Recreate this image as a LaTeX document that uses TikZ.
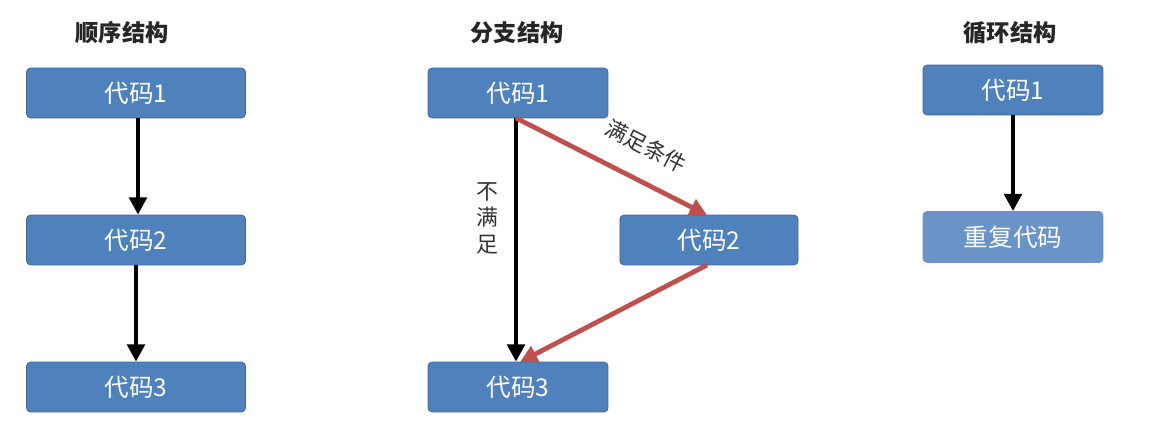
\documentclass[tikz,border=0pt]{standalone}
\usepackage{fontspec}
\setmainfont{Noto Sans CJK SC}
\usetikzlibrary{arrows.meta}
\definecolor{boxblue}{HTML}{4F81BD}
\definecolor{boxlight}{HTML}{6A93C8}
\definecolor{arrred}{HTML}{C0504D}
\begin{document}
\begin{tikzpicture}[x=0.0265cm,y=-0.0265cm,
  box/.style={draw=boxblue!80!black,line width=0.6pt,fill=boxblue,rounded corners=3pt,text=white,font=\fontsize{18.5}{20}\selectfont,inner sep=0pt},
  title/.style={font=\fontsize{17.5}{20}\selectfont\bfseries,text=black!85},
  lab/.style={font=\fontsize{16.5}{18}\selectfont,text=black!80},
  arr/.style={line width=3.6pt,-{Triangle[length=13pt,width=13pt]}},
  rarr/.style={arr,draw=arrred}]
\useasboundingbox (0,0) rectangle (1159,426);
\fill[white] (0,0) rectangle (1159,426);
\node[title] (t1) at (122,33) {顺序结构};
\node[title] (t2) at (517,33) {分支结构};
\node[title] (t3) at (1010,33) {循环结构};
\node[box,minimum width=5.8cm,minimum height=1.32cm] (a1) at (136,93) {代码1};
\node[box,minimum width=5.8cm,minimum height=1.32cm] (a2) at (136,240) {代码2};
\node[box,minimum width=5.8cm,minimum height=1.32cm] (a3) at (136,387) {代码3};
\draw[arr] (a1.south) ++(2,0) coordinate (p1) -- (p1 |- a2.north);
\draw[arr] (a2.south) -- (a3.north);
\node[box,minimum width=4.77cm,minimum height=1.32cm] (b1) at (518,93) {代码1};
\node[box,minimum width=4.72cm,minimum height=1.32cm] (b2) at (709,240) {代码2};
\node[box,minimum width=4.77cm,minimum height=1.32cm] (b3) at (518,387) {代码3};
\coordinate (bs) at (516,118);
\draw[arr] (bs) -- (bs |- b3.north);
\node[lab,align=center] (l1) at (487,218) {不\\[2pt]满\\[2pt]足};
\draw[rarr] (bs) -- (707,215);
\node[lab,rotate=-27] (l2) at (646,146) {满足条件};
\draw[rarr] (707,265) -- (520,362);
\node[box,minimum width=4.77cm,minimum height=1.32cm] (c1) at (1013,90) {代码1};
\node[box,fill=boxlight,draw=boxlight,minimum width=4.77cm,minimum height=1.35cm] (c2) at (1013,237) {重复代码};
\draw[arr] (c1.south) -- (c2.north);
\end{tikzpicture}
\end{document}
